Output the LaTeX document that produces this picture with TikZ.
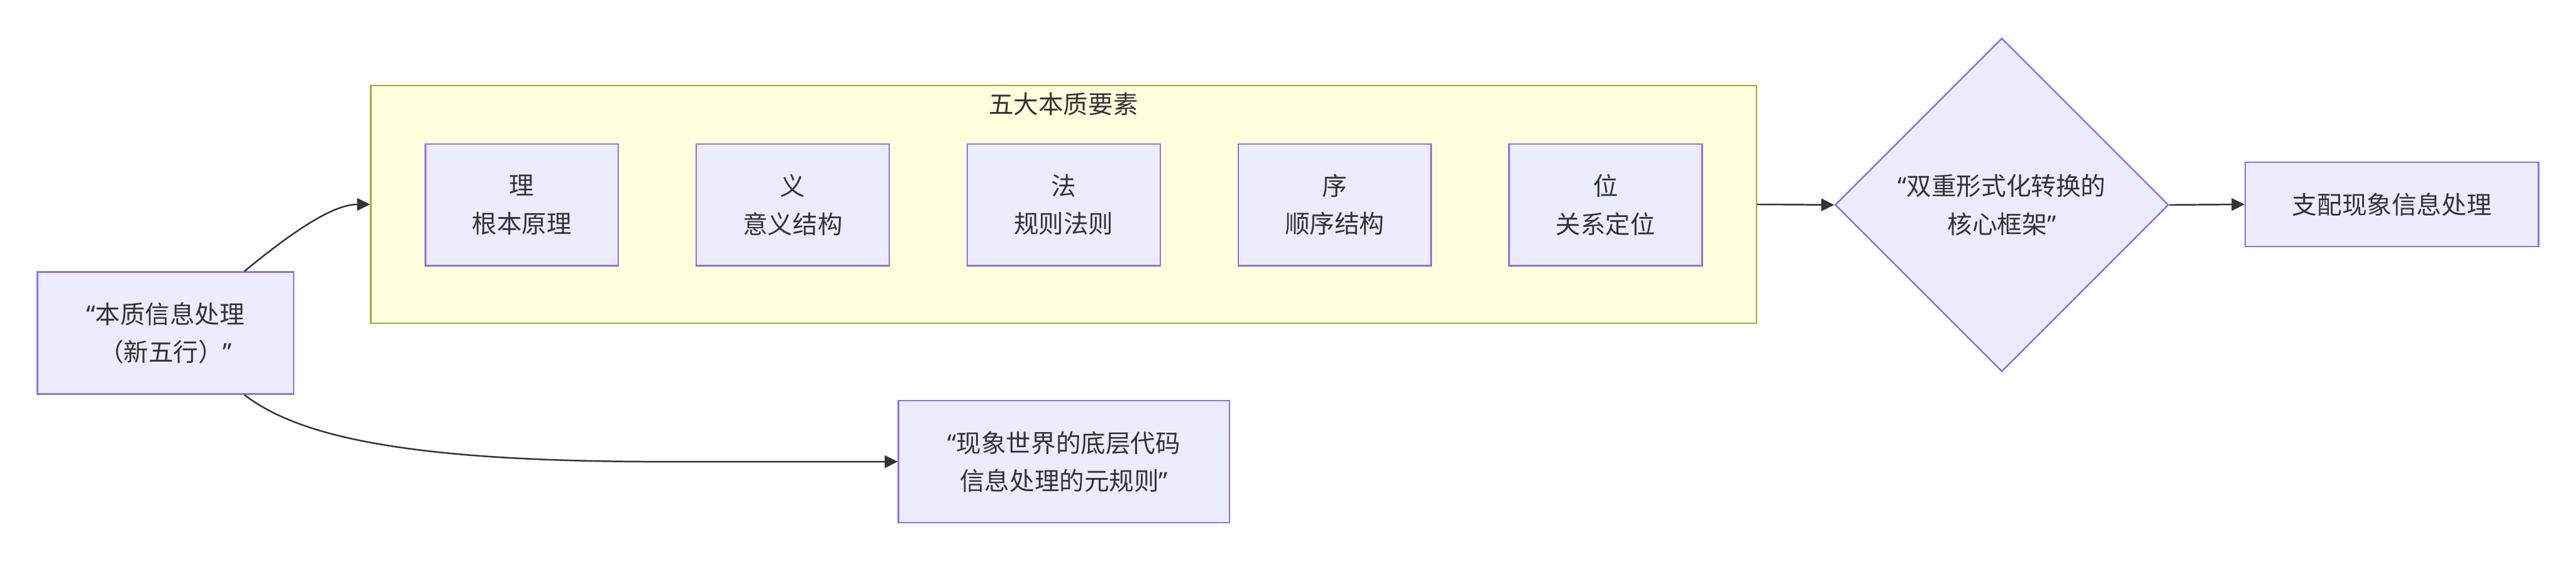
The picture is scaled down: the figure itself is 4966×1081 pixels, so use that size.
\documentclass[tikz,border=0pt]{standalone}
\usepackage{fontspec}
\setmainfont{Noto Sans CJK SC}
\newfontfamily\quotefont{Noto Sans}
\newcommand{\openq}{{\quotefont “}}
\newcommand{\closeq}{{\quotefont ”}}
\usetikzlibrary{arrows.meta,shapes.geometric}
\definecolor{nodefill}{HTML}{ECECFF}
\definecolor{nodeline}{HTML}{9370DB}
\definecolor{clusterfill}{HTML}{FFFFDE}
\definecolor{clusterline}{HTML}{AAAA33}
\definecolor{inkgrey}{HTML}{333333}

\begin{document}
\begin{tikzpicture}[x = {(0.2pt,0pt)},
  y = {(0pt,-0.2pt)},
  every node/.style = {text=inkgrey, font=\fontsize{9.6pt}{14.6pt}\selectfont,
    align=center, inner sep=0pt},
  box/.style = {rectangle, draw=nodeline, fill=nodefill, line width=0.6pt},
  choice/.style = {diamond, aspect=1, draw=nodeline, fill=nodefill,
    line width=0.6pt, minimum size=128.6pt},
  group/.style = {rectangle, draw=clusterline, fill=clusterfill, line width=0.6pt,
    minimum width=534.2pt, minimum height=91.6pt},
  edge/.style = {draw=inkgrey, line width=0.6pt, -{Triangle[length=5pt,width=4.8pt]}}]

  % canvas
  \useasboundingbox (0,0) rectangle (4966,1081);

  % element spacing
  \def\ex{1006}
  \def\edx{522.3}
  \def\ey{395}

  % source node
  \node[box, minimum width=98.8pt, minimum height=47pt] (essence) at (319,642)
  {\openq 本质信息处理\\（新五行）\closeq};

  % five essentials
  \node[group] (elements) at (2050.5,394) {};
  \node (elemtitle) at (2050,200) {五大本质要素};
  \foreach \i/\zi/\ci in {0/理/根本原理, 1/义/意义结构, 2/法/规则法则,
    3/序/顺序结构, 4/位/关系定位}
  \node[box, minimum width=74.4pt, minimum height=47pt] (elem\i)
  at (\ex+\edx*\i,\ey) {\zi\\\ci};

  % core framework
  \node[choice] (frame) at (3859,395) {\openq 双重形式化转换的\\核心框架\closeq};
  \node[box, minimum width=113pt, minimum height=32.4pt] (govern) at (4611,394)
  {支配现象信息处理};
  \node[box, minimum width=127.6pt, minimum height=47pt] (meta) at (2051,890)
  {\openq 现象世界的底层代码\\信息处理的元规则\closeq};

  % connectors
  \draw[edge] ([xshift=30.4pt]essence.north) .. controls (560,450) and (640,394)
  .. (elements.west);
  \draw[edge] ([xshift=30.4pt]essence.south) .. controls (580,845) and (800,891)
  .. ([xshift=-86.6pt]meta.west) -- (meta.west);
  \draw[edge] (elements.east) -- (frame.west);
  \draw[edge] (frame.east) -- (govern.west);

\end{tikzpicture}
\end{document}
